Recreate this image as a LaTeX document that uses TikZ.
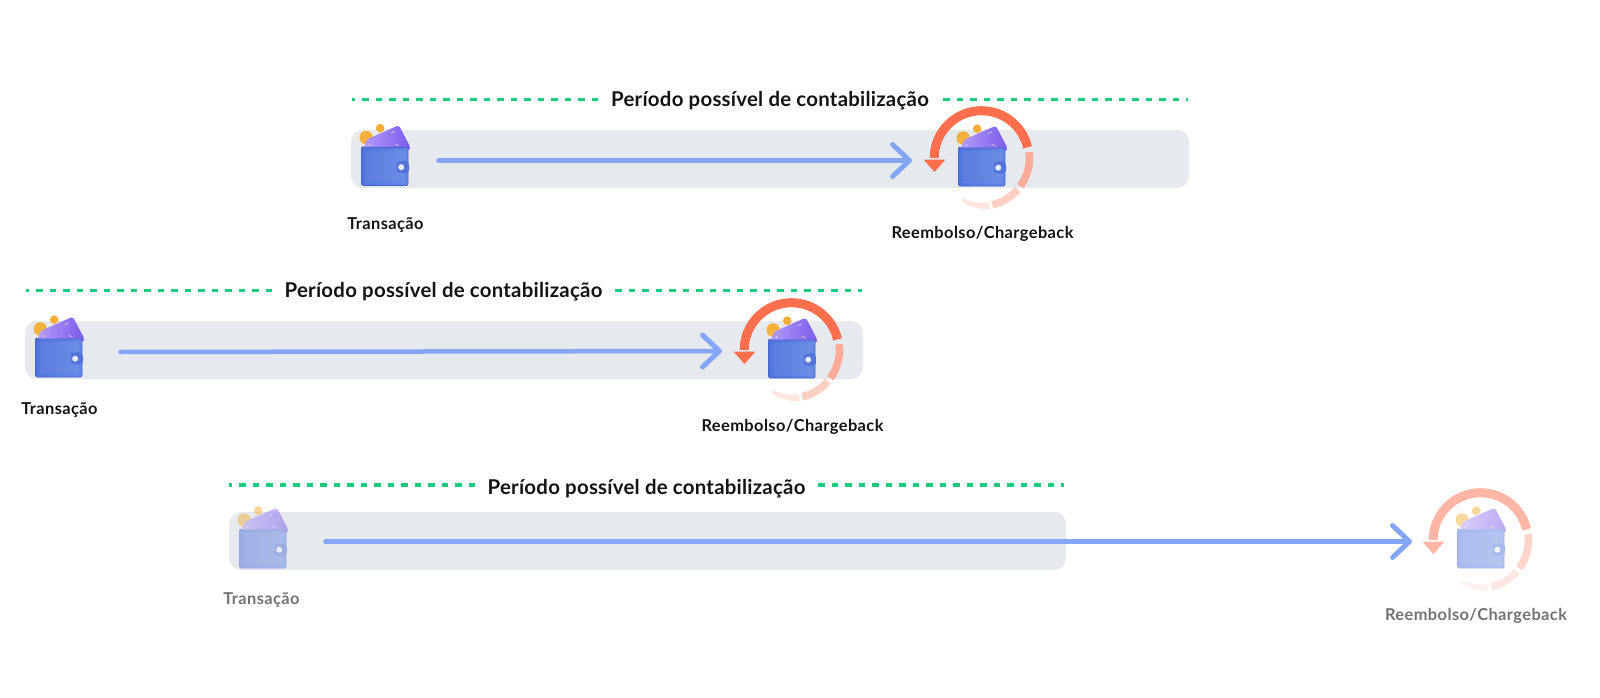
\documentclass[tikz,border=0pt]{standalone}
\usepackage{fontspec}
\setmainfont{Lato}[BoldFont=Lato Bold]
\usetikzlibrary{arrows.meta,calc}
\definecolor{barc}{HTML}{E6E9EE}
\definecolor{dotc}{HTML}{1FC97F}
\definecolor{arrc}{HTML}{84A6F8}
\definecolor{ring1}{HTML}{FF6F4D}
\definecolor{ring2}{HTML}{FFAC98}
\definecolor{ring3}{HTML}{FFCFC3}
\definecolor{ring4}{HTML}{FFE5DE}
\definecolor{coinc}{HTML}{F5B13C}
\definecolor{cardl}{HTML}{B39BFB}
\definecolor{cardr}{HTML}{7A5BEA}
\definecolor{bodyl}{HTML}{4F74DE}
\definecolor{bodyr}{HTML}{6488E6}
\definecolor{bodye}{HTML}{4565CC}
\definecolor{claspc}{HTML}{5173DA}
\tikzset{
  x=1pt,y=1pt,
  barbox/.style={fill=barc,rounded corners=12pt},
  dotline/.style={draw=dotc,line width=3.4pt,dash pattern=on 6.7pt off 6.8pt,dash phase=3.3pt},
  flow/.style={draw=arrc,line width=4.5pt,line cap=round,-{Straight Barb[length=17pt,width=32pt,line width=5pt,round]}},
  title/.style={font=\fontsize{20.4}{24}\selectfont\bfseries\addfontfeature{LetterSpace=1.2},text=black!92,inner sep=0pt},
  lab/.style={font=\fontsize{16.4}{18}\selectfont\bfseries\addfontfeature{LetterSpace=2.5},text=black!92,inner sep=0pt},
  labfade/.style={font=\fontsize{16.4}{18}\selectfont\bfseries\addfontfeature{LetterSpace=2.5},text=black!55,inner sep=0pt},
}
\newcommand{\walletart}[3]{%
 \begin{scope}[shift={(#1,-#2)},transparency group,opacity=#3]
  \fill[coinc] (4.7,10) circle (6.7);
  \fill[coinc!90!orange] (18.7,19.3) circle (4.3);
  \shade[left color=cardl,right color=cardr,rounded corners=2pt]
     (2.3,0.5) -- (5.7,8.3) -- (37.3,22.3) -- (49,0) -- (48,-3) -- (2,-3) -- cycle;
  \fill[white,opacity=.7] (29,14.5) -- (33,16.5) -- (33.3,16) -- (29.3,14) -- cycle;
  \fill[white,opacity=.7] (33,3.5) -- (37,1.5) -- (37.3,2) -- (33.3,4) -- cycle;
  \fill[white,opacity=.7] (8,3) circle (.8) (8,-.5) circle (.8);
  \fill[bodye!50!black] (0,1) rectangle (2,-4);
  \shade[left color=bodyl,right color=bodyr,rounded corners=1.5pt,
     draw=bodye,line width=.8pt] (0,0) rectangle (46.5,-38);
  \fill[white,opacity=.06,rounded corners=1pt] (4,-3) rectangle (43,-35);
  \fill[claspc,rounded corners=4pt] (47.3,-13.3) -- (37,-13.3) -- (35,-16) -- (35,-23) -- (37,-25.7) -- (47.8,-25.7) -- cycle;
  \fill[white!92!blue] (39.7,-19.7) circle (3);
 \end{scope}}
\newcommand{\ringart}[4]{%
 % #1 name, #2 x, #3 y, #4 opacity
 \coordinate (#1) at (#2,-#3);
 \begin{scope}[transparency group,opacity=#4]
  \draw[ring1,line width=9pt] ($(#1)+(13:47.3)$) arc[start angle=13,end angle=180,radius=47.3];
  \fill[ring1] ($(#1)+(-58,-1.5)$) -- ($(#1)+(-36,-1.5)$) -- ($(#1)+(-47,-14)$) -- cycle;
  \draw[ring2,line width=7.6pt] ($(#1)+(7:48)$) arc[start angle=7,end angle=-36,radius=48];
  \draw[ring3,line width=7.6pt] ($(#1)+(-41:48)$) arc[start angle=-41,end angle=-77,radius=48];
  \fill[ring4] ($(#1)+(-80.5:44.5)$) arc[start angle=-80.5,end angle=-115,radius=45]
     -- ($(#1)+(-115:47)$) .. controls ($(#1)+(-105:50.5)$) and ($(#1)+(-92:51.5)$) .. ($(#1)+(-80.5:52)$) -- cycle;
 \end{scope}}
\begin{document}
\begin{tikzpicture}
\useasboundingbox (0,0) rectangle (1600,-698);
\fill[white] (0,0) rectangle (1600,-698);
% bars
\node[barbox,minimum width=838pt,minimum height=58pt,inner sep=0pt] (barA) at (770,-159) {};
\node[barbox,minimum width=838pt,minimum height=58pt,inner sep=0pt] (barB) at (444,-350) {};
\node[barbox,minimum width=837pt,minimum height=58pt,inner sep=0pt] (barC) at (647.5,-541) {};
% titles
\node[title] (titleA) at (770,-100.5) {Período possível de contabilização};
\node[title] (titleB) at (443.5,-291.5) {Período possível de contabilização};
\node[title] (titleC) at (646.5,-488.5) {Período possível de contabilização};
% dotted rules
\coordinate (a1) at (352,-99.3); \coordinate (a2) at (599,-99.3); \coordinate (a3) at (943,-99.3); \coordinate (a4) at (1188,-99.3);
\coordinate (b1) at (26,-290.3); \coordinate (b2) at (273,-290.3); \coordinate (b3) at (615,-290.3); \coordinate (b4) at (862,-290.3);
\coordinate (c1) at (229,-485); \coordinate (c2) at (476,-485); \coordinate (c3) at (818,-485); \coordinate (c4) at (1064,-485);
\foreach \s in {a,b,c}{
  \draw[dotline] (\s1) -- (\s2);
  \draw[dotline,dash phase=0pt] (\s3) -- (\s4);
}
% wallets and rings
\walletart{361.5}{147.5}{1}
\ringart{ringA}{981.5}{158}{1}
\walletart{958.5}{148}{1}
\walletart{35.5}{339}{1}
\ringart{ringB}{791.5}{350}{1}
\walletart{768.5}{340}{1}
\walletart{239.5}{530}{.5}
\ringart{ringC}{1480.5}{540}{.5}
\walletart{1457.5}{530}{.5}
% flows
\coordinate (fa1) at (438.5,-160.5); \coordinate (fa2) at (912,-160.5);
\coordinate (fb1) at (120.5,-352); \coordinate (fb2) at (722,-351);
\coordinate (fc1) at (325.5,-541.5); \coordinate (fc2) at (1412,-541.5);
\draw[flow] (fa1) -- (fa2);
\draw[flow] (fb1) -- (fb2);
\draw[flow] (fc1) -- (fc2);
% labels
\node[lab] (ta) at (385.5,-225.5) {Transação};
\node[lab] (ra) at (982.5,-234) {Reembolso/Chargeback};
\node[lab] (tb) at (59.5,-410) {Transação};
\node[lab] (rb) at (792.5,-426.5) {Reembolso/Chargeback};
\node[labfade] (tc) at (261.5,-600) {Transação};
\node[labfade] (rc) at (1476,-615.5) {Reembolso/Chargeback};
\end{tikzpicture}
\end{document}
